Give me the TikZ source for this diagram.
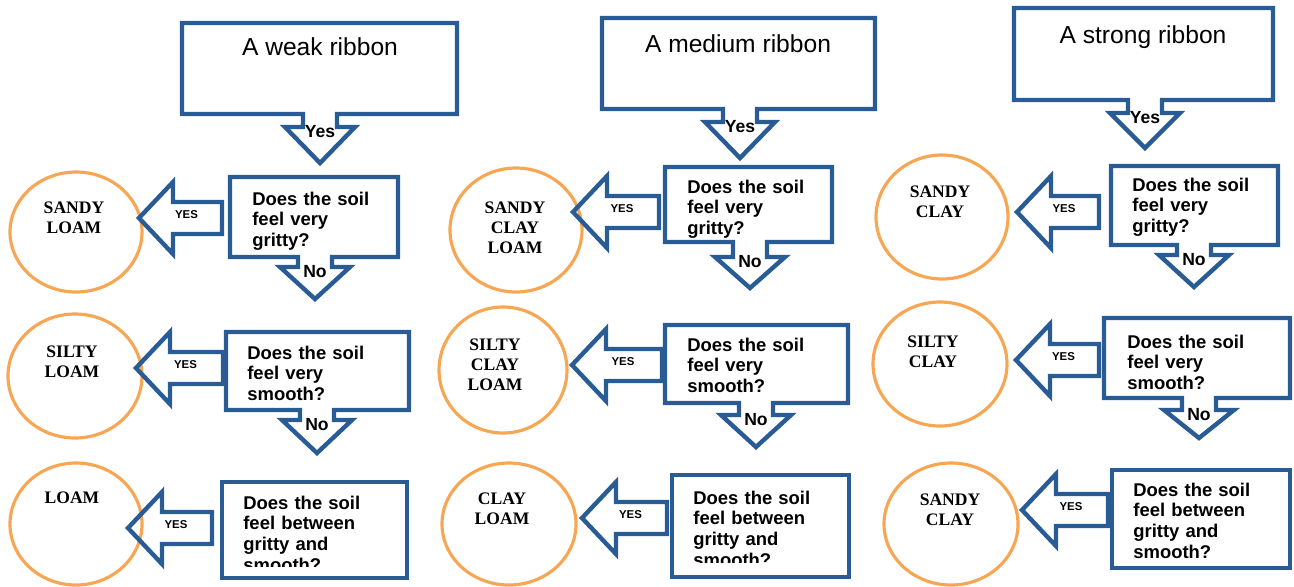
\documentclass[tikz,border=0pt]{standalone}
\usepackage{fontspec}
\setmainfont{Liberation Sans}
\newfontfamily\soilfont{Liberation Serif}

\definecolor{ribbonblue}{RGB}{41,92,148}
\definecolor{soilorange}{RGB}{247,166,84}

\tikzset{
  bluebox/.style={draw=ribbonblue, line width=2.5pt, line join=miter},
  ring/.style={draw=soilorange, line width=1.8pt},
  ribbontitle/.style={font=\fontsize{14}{17}\selectfont, anchor=base, inner sep=0pt},
  question/.style={font=\bfseries\fontsize{10.5}{11.8}\selectfont, align=left,
    text width=3cm, anchor=base west, inner sep=0pt},
  soil/.style={font=\soilfont\bfseries\fontsize{10}{11.6}\selectfont, align=center,
    text width=2cm, anchor=base, inner sep=0pt},
  tiplabel/.style={font=\bfseries\fontsize{10}{12}\selectfont, inner sep=0pt},
  yeslabel/.style={font=\bfseries\fontsize{6.5}{8}\selectfont, inner sep=0pt},
}

% box with a down arrow: name, left, top, right, bottom, arrow x, neck y, tip y, label
\newcommand{\calloutbox}[9]{%
  \draw[bluebox] (#2,#3) -- (#4,#3) -- (#4,#5) -- (#6+17,#5) -- (#6+17,#7)
    -- (#6+35,#7) -- (#6,#8) -- (#6-35,#7) -- (#6-17,#7) -- (#6-17,#5)
    -- (#2,#5) -- cycle;
  \node[tiplabel] (#1tip) at (#6,#7+5) {#9};
}

% left block arrow: name, tip x, tip y, tail x
\newcommand{\yesarrow}[4]{%
  \draw[bluebox] (#2,#3) -- (#2+34,#3-36) -- (#2+34,#3-16) -- (#4,#3-16)
    -- (#4,#3+16) -- (#2+34,#3+16) -- (#2+34,#3+36) -- cycle;
  \node[yeslabel] (#1yes) at ({(#2+34+#4)/2-11},#3-3) {YES};
}

\begin{document}
\begin{tikzpicture}[x=0.02cm, y=-0.02cm]
\useasboundingbox (0,0) rectangle (1294,586);

% weak ribbon
\calloutbox{weak}{182}{23}{457}{114}{320}{127}{163}{Yes}
\node[ribbontitle] (weaktitle) at (320,55) {A weak ribbon};
\calloutbox{weakgrit}{230}{177}{398}{257}{315}{267}{299}{No}
\calloutbox{weaksmooth}{226}{332}{409}{410}{317}{420}{453}{No}
\draw[bluebox] (222,482) rectangle (407,578);
\node[question] (weakgritq) at (252,205) {Does the soil\\feel very\\gritty?};
\node[question] (weaksmoothq) at (247,359) {Does the soil\\feel very\\smooth?};
\begin{scope}
\clip (222,482) rectangle (407,566);
\node[question] (weakmidq) at (243,509) {Does the soil\\feel between\\gritty and\\smooth?};
\end{scope}
\draw[ring] (76,232) ellipse [x radius=66, y radius=60];
\draw[ring] (75,376) ellipse [x radius=67, y radius=62];
\draw[ring] (76,524) ellipse [x radius=66, y radius=61];
\node[soil] (sandyloam) at (74,213) {SANDY\\LOAM};
\node[soil] (siltyloam) at (72,357) {SILTY\\LOAM};
\node[soil] (loam) at (72,503) {LOAM};
\yesarrow{weakA}{139}{218}{222}
\yesarrow{weakB}{136}{368}{223}
\yesarrow{weakC}{128}{528}{212}

% medium ribbon
\calloutbox{medium}{602}{18}{875}{109}{740}{122}{158}{Yes}
\node[ribbontitle] (mediumtitle) at (738,52) {A medium ribbon};
\calloutbox{mediumgrit}{665}{167}{832}{242}{750}{257}{288}{No}
\calloutbox{mediumsmooth}{665}{325}{848}{403}{756}{415}{447}{No}
\draw[bluebox] (672,475) rectangle (849,577);
\node[question] (mediumgritq) at (687,193) {Does the soil\\feel very\\gritty?};
\node[question] (mediumsmoothq) at (687,351) {Does the soil\\feel very\\smooth?};
\begin{scope}
\clip (672,475) rectangle (849,562);
\node[question] (mediummidq) at (693,504) {Does the soil\\feel between\\gritty and\\smooth?};
\end{scope}
\draw[ring] (516,230) ellipse [x radius=66, y radius=62];
\draw[ring] (503,370) ellipse [x radius=64, y radius=63];
\draw[ring] (509,524) ellipse [x radius=67, y radius=61];
\node[soil] (sandyclayloam) at (515,213) {SANDY\\CLAY\\LOAM};
\node[soil] (siltyclayloam) at (495,350) {SILTY\\CLAY\\LOAM};
\node[soil] (clayloam) at (502,504) {CLAY\\LOAM};
\yesarrow{mediumA}{573}{212}{659}
\yesarrow{mediumB}{572}{365}{662}
\yesarrow{mediumC}{582}{518}{667}

% strong ribbon
\calloutbox{strong}{1014}{8}{1273}{100}{1145}{113}{148}{Yes}
\node[ribbontitle] (strongtitle) at (1143,43) {A strong ribbon};
\calloutbox{stronggrit}{1111}{166}{1278}{245}{1194}{255}{287}{No}
\calloutbox{strongsmooth}{1104}{318}{1290}{398}{1199}{410}{438}{No}
\draw[bluebox] (1112,470) rectangle (1290,568);
\node[question] (stronggritq) at (1132,191) {Does the soil\\feel very\\gritty?};
\node[question] (strongsmoothq) at (1127,348) {Does the soil\\feel very\\smooth?};
\node[question] (strongmidq) at (1133,496) {Does the soil\\feel between\\gritty and\\smooth?};
\draw[ring] (942,217) ellipse [x radius=66, y radius=62];
\draw[ring] (940,364) ellipse [x radius=67, y radius=62];
\draw[ring] (951,524) ellipse [x radius=67, y radius=61];
\node[soil] (sandyclay) at (940,197) {SANDY\\CLAY};
\node[soil] (siltyclay) at (933,347) {SILTY\\CLAY};
\node[soil] (sandyclaytwo) at (950,505) {SANDY\\CLAY};
\yesarrow{strongA}{1017}{212}{1099}
\yesarrow{strongB}{1016}{360}{1099}
\yesarrow{strongC}{1022}{510}{1108}
\end{tikzpicture}
\end{document}
